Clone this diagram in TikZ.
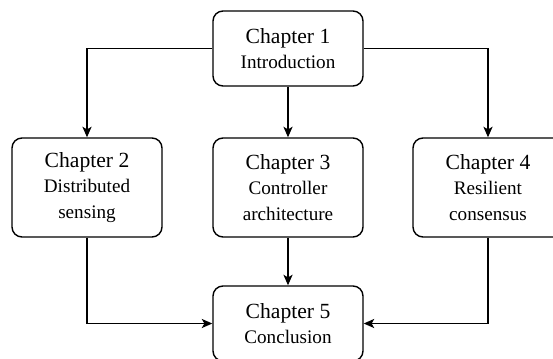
\documentclass[tikz,border=0pt]{standalone}
\usepackage{fontspec}
\setmainfont{Liberation Serif}
\usepackage{tikz}
\usetikzlibrary{arrows.meta}
\usetikzlibrary{positioning}
\tikzset{
  myarrow/.style={
    draw=black,
    line width=0.7pt,
    -{Stealth[length=6pt,width=5.2pt,inset=1.5pt]},
  },
  mychapter/.style={
    draw=black,
    shape=rectangle,
    line width=0.8pt,
    rounded corners=0.2cm,
    align=center,
    inner sep=2pt,
    minimum width=3cm,
    minimum height=1.5cm,
    font=\fontsize{12.3}{14.5}\selectfont
  },
  mytallchapter/.style={
    mychapter,
    minimum height=1.98cm,
  }
}
\newcommand{\subtitle}[1]{{\fontsize{10.9}{14.5}\selectfont #1}}

\begin{document}
\begin{tikzpicture}
    \useasboundingbox (0, 0) rectangle (11.06, -7.16);

    \node [mychapter] (intro) at (5.76, -0.97) {Chapter 1\\\subtitle{Introduction}};

    \node [mytallchapter] (sensing) at (1.74, -3.75) {Chapter 2\\\subtitle{Distributed}\\\subtitle{sensing}};
    \node [mytallchapter] (control) at (5.76, -3.75) {Chapter 3\\\subtitle{Controller}\\\subtitle{architecture}};
    \node [mytallchapter] (consensus) at (9.76, -3.75) {Chapter 4\\\subtitle{Resilient}\\\subtitle{consensus}};

    \node [mychapter] (concl) at (5.76, -6.47) {Chapter 5\\\subtitle{Conclusion}};

    \draw [myarrow] (intro.west) -| (sensing.north);
    \draw [myarrow] (intro.south) -- (control.north);
    \draw [myarrow] (intro.east) -| (consensus.north);

    \draw [myarrow] (sensing.south) |- (concl.west);
    \draw [myarrow] (control.south) -- (concl.north);
    \draw [myarrow] (consensus.south) |- (concl.east);
  \end{tikzpicture}
\end{document}
